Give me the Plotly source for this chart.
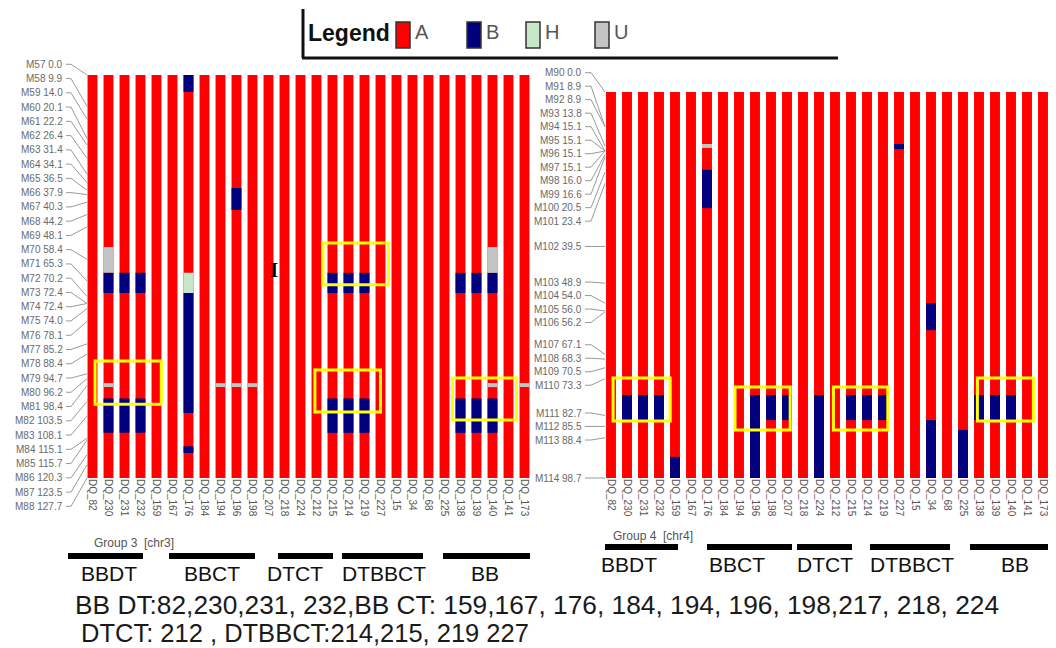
import plotly.graph_objects as go

# ---------------- data ----------------
samples = ["DQ_82", "DQ_230", "DQ_231", "DQ_232", "DQ_159", "DQ_167", "DQ_176",
           "DQ_184", "DQ_194", "DQ_196", "DQ_198", "DQ_207", "DQ_218", "DQ_224",
           "DQ_212", "DQ_215", "DQ_214", "DQ_219", "DQ_227", "DQ_15", "DQ_34",
           "DQ_68", "DQ_225", "DQ_138", "DQ_139", "DQ_140", "DQ_141", "DQ_173"]

chr3_markers = ["M57", "M58", "M59", "M60", "M61", "M62", "M63", "M64", "M65", "M66",
                "M67", "M68", "M69", "M70", "M71", "M72", "M73", "M74", "M75", "M76",
                "M77", "M78", "M79", "M80", "M81", "M82", "M83", "M84", "M85", "M86",
                "M87", "M88"]
chr3_pos = [0.0, 9.9, 14.0, 20.1, 22.2, 26.4, 31.4, 34.1, 36.5, 37.9, 40.3, 44.2, 48.1,
            58.4, 65.3, 70.2, 72.4, 72.4, 74.0, 78.1, 85.2, 88.4, 94.7, 96.2, 98.4,
            103.5, 108.1, 115.1, 115.7, 120.3, 123.5, 127.7]

chr4_markers = ["M90", "M91", "M92", "M93", "M94", "M95", "M96", "M97", "M98", "M99",
                "M100", "M101", "M102", "M103", "M104", "M105", "M106", "M107", "M108",
                "M109", "M110", "M111", "M112", "M113", "M114"]
chr4_pos = [0.0, 8.9, 8.9, 13.8, 15.1, 15.1, 15.1, 15.1, 16.0, 16.6, 20.5, 23.4, 39.5,
            48.9, 54.0, 56.0, 56.2, 67.1, 68.3, 70.5, 73.3, 82.7, 85.5, 88.4, 98.7]

# non-A genotype segments: (sample, start cM, end cM, genotype)
chr3_segments = [
    ("DQ_230", 54.5, 62.7, "U"), ("DQ_140", 54.5, 62.7, "U"),
    ("DQ_230", 62.7, 69.1, "B"), ("DQ_231", 62.7, 69.1, "B"), ("DQ_232", 62.7, 69.1, "B"),
    ("DQ_215", 62.7, 69.1, "B"), ("DQ_214", 62.7, 69.1, "B"), ("DQ_219", 62.7, 69.1, "B"),
    ("DQ_138", 62.7, 69.1, "B"), ("DQ_139", 62.7, 69.1, "B"), ("DQ_140", 62.7, 69.1, "B"),
    ("DQ_176", 0.0, 5.4, "B"), ("DQ_176", 62.7, 69.1, "H"), ("DQ_176", 69.1, 107.1, "B"),
    ("DQ_176", 117.6, 119.8, "B"),
    ("DQ_196", 35.8, 42.8, "B"),
    ("DQ_230", 97.6, 98.9, "U"), ("DQ_194", 97.6, 98.9, "U"), ("DQ_196", 97.6, 98.9, "U"),
    ("DQ_198", 97.6, 98.9, "U"), ("DQ_140", 97.6, 98.9, "U"), ("DQ_173", 97.6, 98.9, "U"),
    ("DQ_230", 102.5, 113.4, "B"), ("DQ_231", 102.5, 113.4, "B"), ("DQ_232", 102.5, 113.4, "B"),
    ("DQ_215", 102.5, 113.4, "B"), ("DQ_214", 102.5, 113.4, "B"), ("DQ_219", 102.5, 113.4, "B"),
    ("DQ_138", 102.5, 113.4, "B"), ("DQ_139", 102.5, 113.4, "B"), ("DQ_140", 102.5, 113.4, "B"),
]
chr4_segments = [
    ("DQ_176", 13.3, 14.3, "U"), ("DQ_176", 19.9, 29.7, "B"),
    ("DQ_227", 13.3, 14.6, "B"),
    ("DQ_230", 77.5, 83.9, "B"), ("DQ_231", 77.5, 83.9, "B"), ("DQ_232", 77.5, 83.9, "B"),
    ("DQ_159", 93.3, 98.7, "B"),
    ("DQ_196", 77.5, 98.7, "B"), ("DQ_198", 77.5, 83.9, "B"), ("DQ_207", 77.5, 83.9, "B"),
    ("DQ_224", 77.5, 98.7, "B"),
    ("DQ_215", 77.5, 83.9, "B"), ("DQ_214", 77.5, 83.9, "B"), ("DQ_219", 77.5, 83.9, "B"),
    ("DQ_34", 54.0, 60.9, "B"), ("DQ_34", 83.9, 98.7, "B"),
    ("DQ_225", 86.4, 98.7, "B"),
    ("DQ_138", 77.5, 83.9, "B"), ("DQ_139", 77.5, 83.9, "B"), ("DQ_140", 77.5, 83.9, "B"),
]

# highlighted regions: (x from, x to in sample-index units, start cM, end cM)
chr3_boxes = [(14.4, 18.5, 53.2, 66.5), (0.16, 4.3, 90.6, 104.3),
              (13.9, 18.0, 93.5, 106.8), (22.5, 26.5, 96.0, 109.3)]
chr4_boxes = [(0.13, 3.7, 73.1, 84.1), (7.75, 11.2, 75.4, 86.4),
              (13.9, 17.3, 75.4, 86.4), (22.9, 26.4, 73.1, 84.1)]

groups = ["BBDT", "BBCT", "DTCT", "DTBBCT", "BB"]
genotypes = ["A", "B", "H", "U"]
geno_colors = {"A": "#FF0000", "B": "#00007F", "H": "#C8E6C8", "U": "#C4C4C4"}

note_line1 = "BB DT:82,230,231, 232,BB CT: 159,167, 176, 184, 194, 196, 198,217, 218, 224"
note_line2 = "DTCT: 212 , DTBBCT:214,215, 219 227"

# ---------------- layout geometry (pixels in the 1056x648 window) ----------------
OFF = 8                      # page body margin
W, H = 1056 - OFF, 648 - OFF
FONT = "Liberation Sans, Arial, sans-serif"


def px(x):
    return (x - OFF) / W


def py(y):
    return 1 - (y - OFF) / H


panels = [
    dict(xa="x", ya="y", xname="xaxis", yname="yaxis", markers=chr3_markers, pos=chr3_pos,
         segs=chr3_segments, boxes=chr3_boxes, left=84.5, right=532.5, top=75, bottom=478,
         lab_x=65, bend_x=71, end_x=87, gap=14.26,
         group_bars=[(68, 143), (169, 255), (278, 333), (342, 423), (443, 530)],
         group_bar_y=553, group_text_x=[109, 212, 295, 384, 485], group_text_y=573,
         gname="Group 3  [chr3]", gname_xy=(92, 543)),
    dict(xa="x2", ya="y2", xname="xaxis2", yname="yaxis2", markers=chr4_markers, pos=chr4_pos,
         segs=chr4_segments, boxes=chr4_boxes, left=603, right=1051, top=92, bottom=478,
         lab_x=584, bend_x=591, end_x=605, gap=13.5,
         group_bars=[(605, 678), (707, 792), (797, 852), (870, 950), (970, 1056)],
         group_bar_y=544, group_text_x=[629, 737, 825, 912, 1015], group_text_y=564,
         gname="Group 4  [chr4]", gname_xy=(611, 536)),
]


def spread(positions, gap):
    clusters = [[p] for p in positions]

    def top(c):
        return sum(c) / len(c) - (len(c) - 1) * gap / 2

    changed = True
    while changed:
        changed = False
        for i in range(len(clusters) - 1):
            a, b = clusters[i], clusters[i + 1]
            if top(b) < top(a) + len(a) * gap:
                clusters[i] = a + b
                del clusters[i + 1]
                changed = True
                break
    out = []
    for c in clusters:
        t = top(c)
        out += [t + k * gap for k in range(len(c))]
    return out


fig = go.Figure()
shapes = []
annotations = []

for p in panels:
    length = p["pos"][-1]
    fig.add_trace(go.Bar(x=samples, y=[length] * len(samples), base=[0] * len(samples),
                         marker=dict(color=geno_colors["A"], line=dict(width=0)),
                         width=0.62, xaxis=p["xa"], yaxis=p["ya"], showlegend=False,
                         hoverinfo="skip"))
    for g in genotypes[1:]:
        segs = [s for s in p["segs"] if s[3] == g]
        if not segs:
            continue
        fig.add_trace(go.Bar(x=[s[0] for s in segs], y=[s[2] - s[1] for s in segs],
                             base=[s[1] for s in segs],
                             marker=dict(color=geno_colors[g], line=dict(width=0)),
                             width=0.62, xaxis=p["xa"], yaxis=p["ya"], showlegend=False,
                             hoverinfo="skip"))
    for (x0, x1, y0, y1) in p["boxes"]:
        shapes.append(dict(type="rect", xref=p["xa"], yref=p["ya"], x0=x0, x1=x1, y0=y0, y1=y1,
                           line=dict(color="#FFFF00", width=3), fillcolor="rgba(0,0,0,0)",
                           layer="above"))
    scale = (p["bottom"] - p["top"]) / length
    nat = [p["top"] + v * scale for v in p["pos"]]
    labs = spread(nat, p["gap"])
    for m, v, yn, yl in zip(p["markers"], p["pos"], nat, labs):
        annotations.append(dict(x=px(p["lab_x"]), y=py(yl), xref="paper", yref="paper",
                                text=f"{m} {v:.1f}", showarrow=False, xanchor="right",
                                yanchor="middle", font=dict(size=10, color="#6a6a6a", family=FONT)))
        shapes.append(dict(type="line", xref="paper", yref="paper", x0=px(p["lab_x"] + 1),
                           x1=px(p["bend_x"]), y0=py(yl), y1=py(yl),
                           line=dict(color="#9a9a9a", width=1)))
        shapes.append(dict(type="line", xref="paper", yref="paper", x0=px(p["bend_x"]),
                           x1=px(p["end_x"]), y0=py(yl), y1=py(yn),
                           line=dict(color="#9a9a9a", width=1)))
    for (gx0, gx1), gtx, gname in zip(p["group_bars"], p["group_text_x"], groups):
        shapes.append(dict(type="rect", xref="paper", yref="paper", x0=px(gx0), x1=px(gx1),
                           y0=py(p["group_bar_y"] + 6), y1=py(p["group_bar_y"]),
                           fillcolor="#000000", line=dict(width=0)))
        annotations.append(dict(x=px(gtx), y=py(p["group_text_y"]), xref="paper", yref="paper",
                                text=gname, showarrow=False, xanchor="center", yanchor="middle",
                                font=dict(size=21, color="#111111", family=FONT)))
    annotations.append(dict(x=px(p["gname_xy"][0]), y=py(p["gname_xy"][1]), xref="paper",
                            yref="paper", text=p["gname"], showarrow=False, xanchor="left",
                            yanchor="middle", font=dict(size=12, color="#555555", family=FONT)))

# legend (drawn)
shapes.append(dict(type="line", xref="paper", yref="paper", x0=px(303), x1=px(303),
                   y0=py(9), y1=py(58), line=dict(color="#111111", width=3)))
shapes.append(dict(type="line", xref="paper", yref="paper", x0=px(302), x1=px(838),
                   y0=py(58), y1=py(58), line=dict(color="#111111", width=3)))
annotations.append(dict(x=px(306), y=py(33), xref="paper", yref="paper", text="<b>Legend</b>",
                        showarrow=False, xanchor="left", yanchor="middle",
                        font=dict(size=23, color="#111111", family=FONT)))
leg_sq = [396, 467, 526, 595]
for g, sx in zip(genotypes, leg_sq):
    shapes.append(dict(type="rect", xref="paper", yref="paper", x0=px(sx), x1=px(sx + 14),
                       y0=py(48), y1=py(22), fillcolor=geno_colors[g],
                       line=dict(color="#333333", width=1.5)))
    annotations.append(dict(x=px(sx + 17), y=py(32), xref="paper", yref="paper", text=g,
                            showarrow=False, xanchor="left", yanchor="middle",
                            font=dict(size=20, color="#555555", family=FONT)))

annotations.append(dict(x=px(268), y=py(270), xref="paper", yref="paper", text="<b>I</b>",
                        showarrow=False, font=dict(size=21, color="#000000",
                                                   family="Liberation Serif, serif")))
annotations.append(dict(x=px(73), y=py(605), xref="paper", yref="paper", text=note_line1,
                        showarrow=False, xanchor="left", yanchor="middle",
                        font=dict(size=26.3, color="#1a1a1a", family=FONT)))
annotations.append(dict(x=px(79), y=py(633), xref="paper", yref="paper", text=note_line2,
                        showarrow=False, xanchor="left", yanchor="middle",
                        font=dict(size=25.5, color="#1a1a1a", family=FONT)))

layout = dict(width=W, height=H, autosize=False, margin=dict(l=0, r=0, t=0, b=0),
              paper_bgcolor="white", plot_bgcolor="white", barmode="overlay",
              shapes=shapes, annotations=annotations, showlegend=False)
for p in panels:
    layout[p["xname"]] = dict(domain=[px(p["left"]), px(p["right"])], anchor=p["ya"],
                              type="category", categoryorder="array", categoryarray=samples,
                              range=[-0.5, len(samples) - 0.5], tickangle=90, ticks="",
                              showgrid=False, showline=False, zeroline=False,
                              tickfont=dict(size=10, color="#555555", family=FONT))
    layout[p["yname"]] = dict(domain=[py(p["bottom"]), py(p["top"])], anchor=p["xa"],
                              range=[p["pos"][-1], 0], visible=False, showgrid=False,
                              zeroline=False)
fig.update_layout(**layout)
fig.write_html("out.html")
